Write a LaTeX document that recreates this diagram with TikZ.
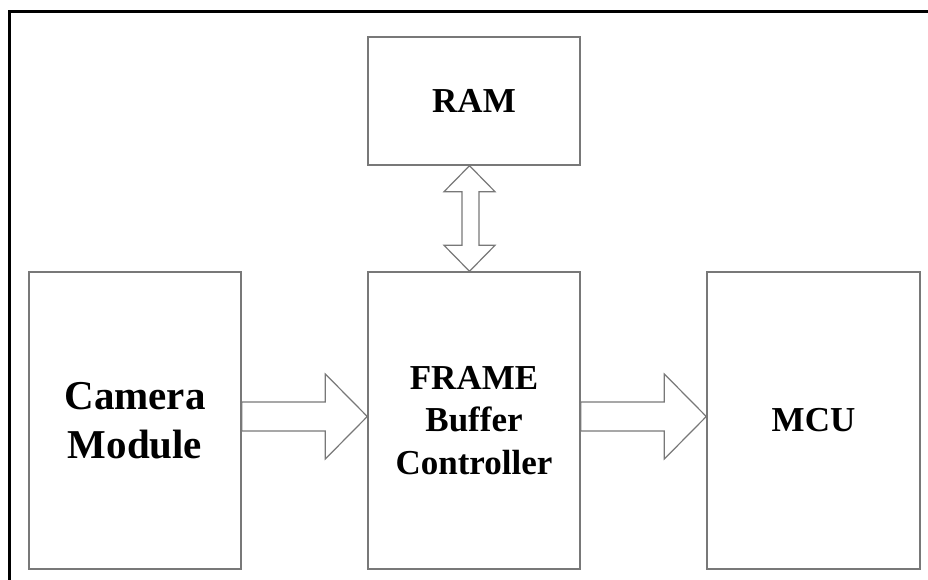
\documentclass[tikz,border=0pt]{standalone}
\usepackage{fontspec}
\setmainfont{Liberation Serif}
\usepackage{tikz}
\usetikzlibrary{positioning}
\definecolor{boxgray}{RGB}{120,120,120}
\tikzstyle{block} = [rectangle, draw=boxgray, line width=1.4pt, minimum width=212pt, minimum height=297pt, align=center, font=\fontsize{35}{42.5}\selectfont\bfseries, inner sep=0pt]
\tikzstyle{blockarrow} = [draw=boxgray, line width=1.2pt, fill=white, line join=miter]

\begin{document}
\begin{tikzpicture}[x=1pt,y=-1pt]
\useasboundingbox (0,0) rectangle (928,580);
\draw[line width=3pt] (9,582) -- (9,12) -- (930,12);
\node (fbc) [block] at (474,420.5) {FRAME\\Buffer\\Controller};
\node (cam) [block, font=\fontsize{41}{49}\selectfont\bfseries] at (135,420.5) {Camera\\Module};
\node (mcu) [block, minimum width=213pt] at (813.5,420.5) {MCU};
\node (ram) [block, minimum height=128pt] at (474,101) {RAM};
% wide arrows between the blocks
\foreach \a/\b in {cam/fbc, fbc/mcu}
  \draw[blockarrow] ([yshift=18.5pt]\a.east) -- ([xshift=-42pt,yshift=18.5pt]\b.west)
    -- ([xshift=-42pt,yshift=46.5pt]\b.west) -- ([yshift=4pt]\b.west)
    -- ([xshift=-42pt,yshift=-38.5pt]\b.west) -- ([xshift=-42pt,yshift=-10.5pt]\b.west)
    -- ([yshift=-10.5pt]\a.east) -- cycle;
% two-way arrow to the RAM
\draw[blockarrow] ([xshift=-4.5pt]ram.south) -- ([xshift=21pt,yshift=-26pt]ram.south)
  -- ([xshift=5pt,yshift=-26pt]ram.south) -- ([xshift=5pt,yshift=26pt]fbc.north)
  -- ([xshift=21pt,yshift=26pt]fbc.north) -- ([xshift=-4.5pt]fbc.north)
  -- ([xshift=-30pt,yshift=26pt]fbc.north) -- ([xshift=-12pt,yshift=26pt]fbc.north)
  -- ([xshift=-12pt,yshift=-26pt]ram.south) -- ([xshift=-30pt,yshift=-26pt]ram.south) -- cycle;
\end{tikzpicture}
\end{document}
